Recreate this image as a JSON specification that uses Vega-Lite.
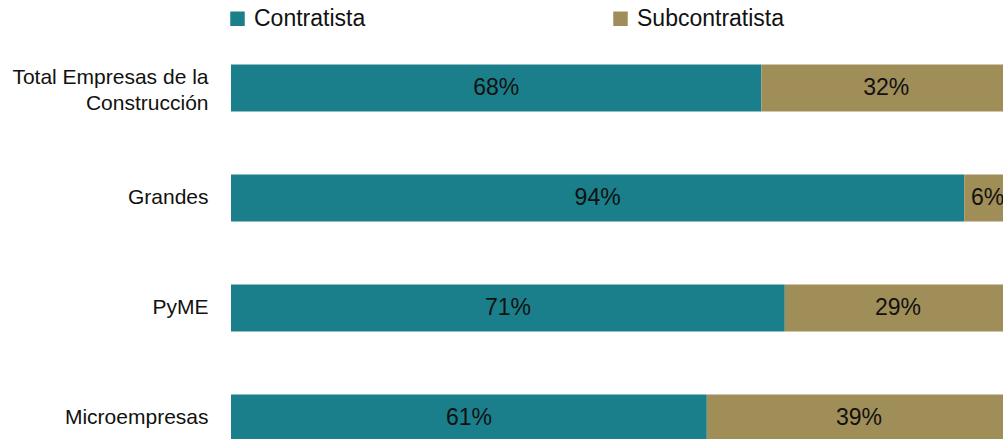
{
  "$schema": "https://vega.github.io/schema/vega-lite/v6.json",
  "width": 780,
  "height": 440,
  "autosize": {"type": "none"},
  "padding": {"left": 231, "top": 33, "right": 0, "bottom": 0},
  "background": "white",
  "config": {
    "view": {"stroke": null},
    "font": "Liberation Sans",
    "text": {"font": "Liberation Sans"}
  },
  "data": {
    "values": [
      {"grupo": "Total Empresas de la Construcción", "tipo": "Contratista", "orden": 1, "valor": 0.68},
      {"grupo": "Total Empresas de la Construcción", "tipo": "Subcontratista", "orden": 2, "valor": 0.32},
      {"grupo": "Grandes", "tipo": "Contratista", "orden": 1, "valor": 0.94},
      {"grupo": "Grandes", "tipo": "Subcontratista", "orden": 2, "valor": 0.06},
      {"grupo": "PyME", "tipo": "Contratista", "orden": 1, "valor": 0.71},
      {"grupo": "PyME", "tipo": "Subcontratista", "orden": 2, "valor": 0.29},
      {"grupo": "Microempresas", "tipo": "Contratista", "orden": 1, "valor": 0.61},
      {"grupo": "Microempresas", "tipo": "Subcontratista", "orden": 2, "valor": 0.39}
    ]
  },
  "encoding": {
    "y": {
      "field": "grupo",
      "type": "nominal",
      "sort": null,
      "scale": {"paddingInner": 0.573, "paddingOuter": 0.2865},
      "axis": {
        "title": null,
        "domain": false,
        "ticks": false,
        "labelFontSize": 21,
        "labelColor": "#111111",
        "labelPadding": 23,
        "labelLineHeight": 26,
        "labelLimit": 300,
        "labelOffset": {"condition": {"test": "datum.value == 'Total Empresas de la Construcción'", "value": -10}, "value": 0},
        "labelExpr": "datum.label == 'Total Empresas de la Construcción' ? ['Total Empresas de la', 'Construcción'] : datum.label"
      }
    }
  },
  "layer": [
    {
      "mark": {"type": "bar"},
      "encoding": {
        "x": {
          "field": "valor",
          "type": "quantitative",
          "stack": "zero",
          "scale": {"domain": [0, 1], "nice": false, "zero": true},
          "axis": null
        },
        "order": {"field": "orden", "type": "quantitative"},
        "color": {
          "field": "tipo",
          "type": "nominal",
          "scale": {"domain": ["Contratista", "Subcontratista"], "range": ["#1A7F8A", "#A08E58"]},
          "legend": {
            "title": null,
            "orient": "none",
            "legendX": -5,
            "legendY": -26,
            "direction": "horizontal",
            "symbolType": "square",
            "symbolSize": 210,
            "symbolStrokeWidth": 0,
            "symbolOpacity": 1,
            "labelFontSize": 23,
            "labelColor": "#111111",
            "labelOffset": 5,
            "columnPadding": 243,
            "labelLimit": 300
          }
        }
      }
    },
    {
      "mark": {"type": "text", "fontSize": 23, "color": "#111111", "align": "center", "baseline": "middle"},
      "encoding": {
        "x": {
          "field": "valor",
          "type": "quantitative",
          "stack": "zero",
          "bandPosition": 0.5
        },
        "order": {"field": "orden", "type": "quantitative"},
        "text": {"field": "valor", "type": "quantitative", "format": ".0%"}
      }
    }
  ]
}
